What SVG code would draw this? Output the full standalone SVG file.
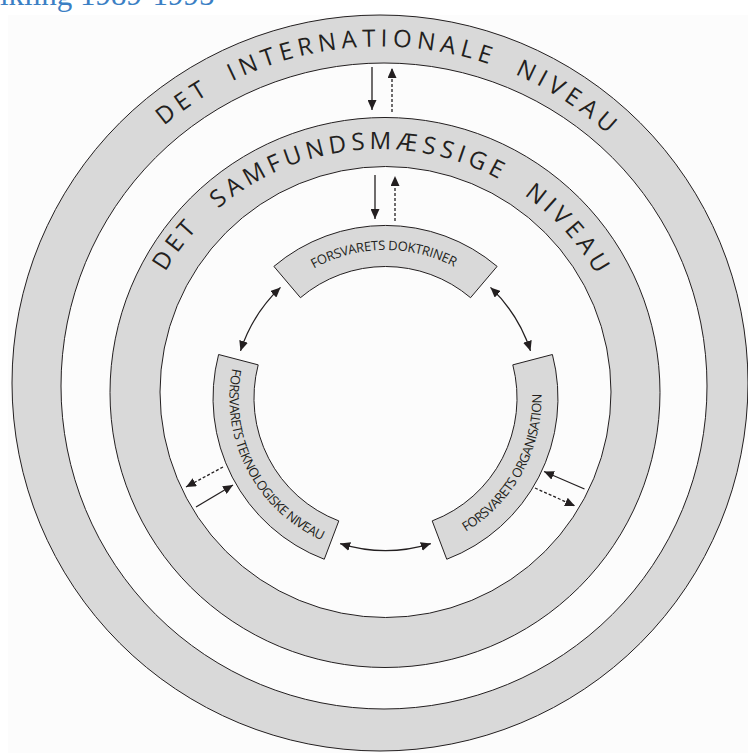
<svg xmlns="http://www.w3.org/2000/svg" width="748" height="753" viewBox="0 0 748 753">
<style>
.ring{fill:#d9d9d9;stroke:#231f20;stroke-width:1;fill-rule:evenodd}
.seg{fill:#d9d9d9;stroke:#231f20;stroke-width:1}
.big{font-family:'Open Sans','DejaVu Sans',sans-serif;font-size:24px;fill:#231f20}
.small{font-family:'Open Sans','DejaVu Sans',sans-serif;font-size:13px;fill:#231f20}
.con{fill:none;stroke:#231f20;stroke-width:1.3}
.dash{stroke-dasharray:3 2}
</style>
<defs>
<marker id="ah" viewBox="0 0 10 9" refX="10" refY="4.5" markerWidth="10" markerHeight="9" markerUnits="userSpaceOnUse" orient="auto-start-reverse">
<path d="M0,0 L10,4.5 L0,9 Z" fill="#231f20"/>
</marker>
<path id="p-int" d="M 44.5 383 A 336.5 336.5 0 0 1 717.5 383"/>
<path id="p-sam" d="M 131 398 A 249 249 0 0 1 629 398"/>
<path id="p-dok" d="M 279.5 294.7 A 148 148 0 0 1 488.8 292.0"/>
<path id="p-tek" d="M 236.8 350.8 A 156 156 0 0 0 338.3 546.7"/>
<path id="p-org" d="M 429.0 547.8 A 156 156 0 0 0 535.3 354.5"/>
</defs>
<rect x="0" y="0" width="748" height="753" fill="#ffffff"/>
<rect x="8" y="15" width="740" height="738" fill="#fcfcfc"/>
<text x="0" y="5" font-family="'Liberation Serif',serif" font-size="31" fill="#3b7fc4">ikling 1989-1995</text>

<g id="ring-international">
<path class="ring" d="M 12 383 a 368 368 0 1 0 736 0 a 368 368 0 1 0 -736 0 Z M 61 386 a 323 323 0 1 0 646 0 a 323 323 0 1 0 -646 0 Z"/>
<text class="big" letter-spacing="5.15" word-spacing="11" text-anchor="middle"><textPath href="#p-int" startOffset="537.1">DET INTERNATIONALE NIVEAU</textPath></text>
</g>

<g id="ring-samfund">
<path class="ring" d="M 110 392.5 a 275 275 0 1 0 550 0 a 275 275 0 1 0 -550 0 Z M 160 392 a 225.5 225.5 0 1 0 451 0 a 225.5 225.5 0 1 0 -451 0 Z"/>
<text class="big" letter-spacing="4.65" word-spacing="14" text-anchor="middle"><textPath href="#p-sam" startOffset="394.6">DET SAMFUNDSMÆSSIGE NIVEAU</textPath></text>
</g>

<g id="seg-doktriner">
<path class="seg" d="M 273.9 266.4 A 172.5 172.5 0 0 1 497.1 266.4 L 470.55 297.7 A 131.5 131.5 0 0 0 300.45 297.7 Z"/>
<text class="small" letter-spacing="-0.32" text-anchor="middle"><textPath href="#p-dok" startOffset="50%">FORSVARETS DOKTRINER</textPath></text>
</g>

<g id="seg-teknologi">
<path class="seg" d="M 324.25 559.25 A 172.5 172.5 0 0 1 218.6 354.5 L 258.2 364.85 A 131.5 131.5 0 0 0 338.8 520.9 Z"/>
<text class="small" letter-spacing="-0.55" text-anchor="middle"><textPath href="#p-tek" startOffset="50%">FORSVARETS TEKNOLOGISKE NIVEAU</textPath></text>
</g>

<g id="seg-organisation">
<path class="seg" d="M 552.4 354.5 A 172.5 172.5 0 0 1 446.75 559.25 L 432.2 520.9 A 131.5 131.5 0 0 0 512.8 364.85 Z"/>
<text class="small" letter-spacing="-0.52" text-anchor="middle"><textPath href="#p-org" startOffset="50%">FORSVARETS ORGANISATION</textPath></text>
</g>

<g id="connectors">
<line class="con" x1="372" y1="67" x2="372" y2="110" marker-end="url(#ah)"/>
<line class="con dash" x1="392" y1="112" x2="392" y2="68" marker-end="url(#ah)"/>
<line class="con" x1="375" y1="175" x2="375" y2="219" marker-end="url(#ah)"/>
<line class="con dash" x1="395" y1="221" x2="395" y2="176" marker-end="url(#ah)"/>
<path class="con" d="M 280.5 287.4 A 152.5 152.5 0 0 0 240.5 350.9" marker-start="url(#ah)" marker-end="url(#ah)"/>
<path class="con" d="M 490.5 287.4 A 152.5 152.5 0 0 1 530.5 350.9" marker-start="url(#ah)" marker-end="url(#ah)"/>
<path class="con" d="M 430.85 543.6 A 152.5 152.5 0 0 1 340.15 543.6" marker-start="url(#ah)" marker-end="url(#ah)"/>
<line class="con dash" x1="223" y1="467" x2="186" y2="487" marker-end="url(#ah)"/>
<line class="con" x1="196" y1="507" x2="233" y2="485" marker-end="url(#ah)"/>
<line class="con" x1="584.5" y1="489" x2="544" y2="471.5" marker-end="url(#ah)"/>
<line class="con dash" x1="535" y1="488" x2="575" y2="506" marker-end="url(#ah)"/>
</g>
</svg>
